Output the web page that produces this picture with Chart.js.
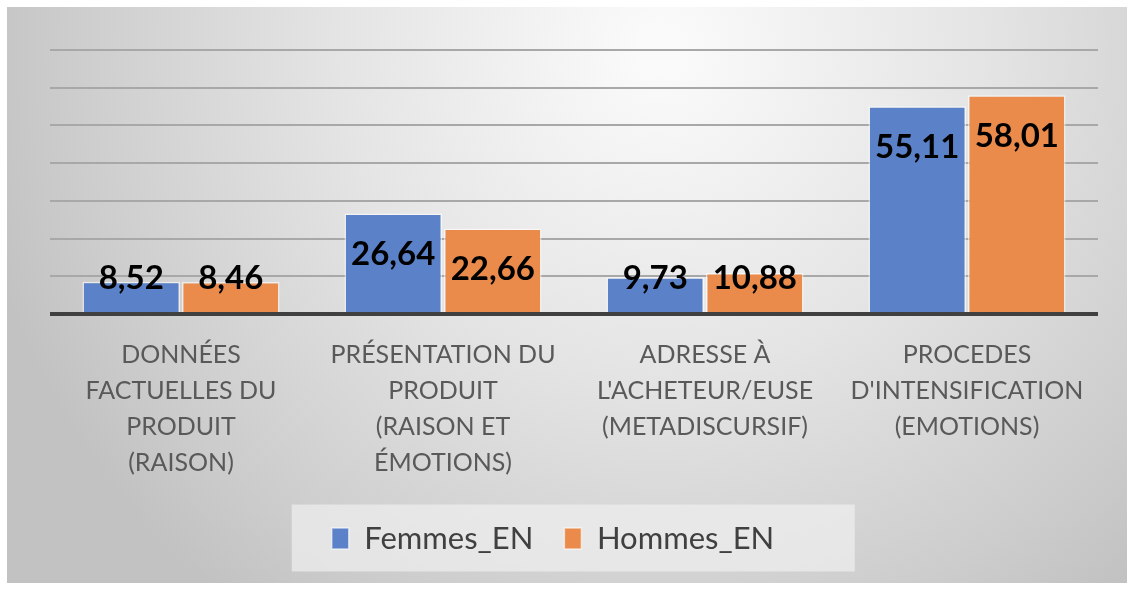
<!DOCTYPE html>
<html>
<head>
<meta charset="utf-8">
<script src="https://cdn.jsdelivr.net/npm/chart.js@4.4.1/dist/chart.umd.min.js"></script>
<style>
  html, body { margin: 0; padding: 0; background: #fff; }
  #wrap { width: 1134px; height: 590px; }
</style>
</head>
<body>
<div id="wrap"><canvas id="chart" width="1134" height="590"></canvas></div>
<script>
// categories (already split in lines as in the original)
const categories = [
    ["DONNÉES", "FACTUELLES DU", "PRODUIT", "(RAISON)"],
    ["PRÉSENTATION DU", "PRODUIT", "(RAISON ET", "ÉMOTIONS)"],
    ["ADRESSE À", "L'ACHETEUR/EUSE", "(METADISCURSIF)"],
    ["PROCEDES", "D'INTENSIFICATION", "(EMOTIONS)"]
];
const femmes = [8.52, 26.64, 9.73, 55.11];
const hommes = [8.46, 22.66, 10.88, 58.01];
const seriesNames = ["Femmes_EN", "Hommes_EN"];

const FONT = "Lato, 'Open Sans', sans-serif";

// gray gradient background + legend box
const backdrop = {
    id: "backdrop",
    beforeDraw(chart) {
        const ctx = chart.ctx;
        ctx.save();
        ctx.fillStyle = "#ffffff";
        ctx.fillRect(0, 0, chart.width, chart.height);
        const g = ctx.createRadialGradient(660, 50, 20, 660, 50, 700);
        g.addColorStop(0, "#fafafa");
        g.addColorStop(0.45, "#e4e4e4");
        g.addColorStop(0.85, "#cccccc");
        g.addColorStop(1, "#c2c2c2");
        ctx.fillStyle = g;
        ctx.fillRect(7, 7, chart.width - 14, chart.height - 14);

        const boxes = chart.legend && chart.legend.legendHitBoxes;
        if (boxes && boxes.length) {
            const first = boxes[0];
            const x0 = first.left - 40;
            const cy = first.top + first.height / 2;
            ctx.fillStyle = "rgba(240,240,240,0.7)";
            ctx.fillRect(x0, cy - 34, 563, 67);
        }
        ctx.restore();
    }
};

// value labels, comma decimals
const valueLabels = {
    id: "valueLabels",
    afterDatasetsDraw(chart) {
        const ctx = chart.ctx;
        ctx.save();
        ctx.font = "bold 33px " + FONT;
        ctx.fillStyle = "#000";
        ctx.textAlign = "center";
        ctx.textBaseline = "middle";
        chart.data.datasets.forEach((ds, i) => {
            chart.getDatasetMeta(i).data.forEach((bar, j) => {
                const y = Math.min(bar.y + 41, bar.base - 34);
                ctx.fillText(ds.data[j].toFixed(2).replace(".", ","), bar.x, y);
            });
        });
        ctx.restore();
    }
};

new Chart(document.getElementById("chart"), {
    type: "bar",
    data: {
        labels: categories,
        datasets: [
            {
                label: seriesNames[0],
                data: femmes,
                backgroundColor: "#5b82c8",
                borderColor: "rgba(255,255,255,0.6)",
                borderWidth: 1.5
            },
            {
                label: seriesNames[1],
                data: hommes,
                backgroundColor: "#eb8b4b",
                borderColor: "rgba(255,255,255,0.6)",
                borderWidth: 1.5
            }
        ]
    },
    options: {
        responsive: false,
        animation: false,
        devicePixelRatio: 1,
        layout: { padding: { left: 8, right: 36, top: 50, bottom: 26 } },
        datasets: { bar: { categoryPercentage: 0.76, barPercentage: 0.98 } },
        scales: {
            x: {
                grid: { display: false, drawTicks: false },
                border: { display: false },
                ticks: {
                    padding: 23,
                    color: "#595959",
                    font: { family: FONT, size: 25, lineHeight: 1.44 },
                    maxRotation: 0,
                    autoSkip: false
                },
                afterFit(s) { s.height = 178; }
            },
            y: {
                min: 0,
                max: 70,
                ticks: { display: false, stepSize: 10 },
                border: { display: false },
                grid: {
                    drawTicks: false,
                    color: (c) => (c.tick && c.tick.value === 0 ? "#404040" : "#a8a8a8"),
                    lineWidth: (c) => (c.tick && c.tick.value === 0 ? 4 : 2)
                },
                afterFit(s) { s.width = 42; }
            }
        },
        plugins: {
            tooltip: { enabled: false },
            legend: {
                position: "bottom",
                labels: {
                    boxWidth: 17,
                    boxHeight: 21,
                    padding: 31,
                    color: "#404040",
                    font: { family: FONT, size: 31 }
                }
            }
        }
    },
    plugins: [backdrop, valueLabels]
});
</script>
</body>
</html>
